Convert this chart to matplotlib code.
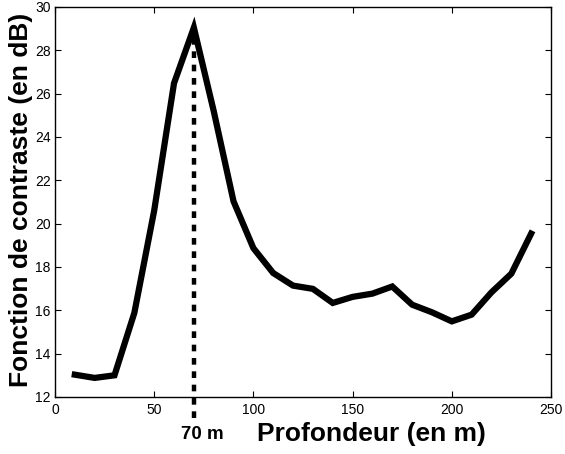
import numpy as np
import matplotlib
matplotlib.use("Agg")
import matplotlib.pyplot as plt

plt.rcParams['font.family'] = ['Liberation Sans', 'DejaVu Sans']

# profondeur (m) et fonction de contraste (dB)
depth = [10, 20, 30, 40, 50, 60, 70, 80, 90, 100, 110, 120,
         130, 140, 150, 160, 170, 180, 190, 200, 210, 220, 230, 240]
contrast = [13.03, 12.88, 13.0, 15.88, 20.6, 26.48, 29.05, 25.2, 21.03, 18.87, 17.72, 17.14,
            16.99, 16.34, 16.62, 16.77, 17.1, 16.26, 15.91, 15.49, 15.8, 16.83, 17.69, 19.54]
peak_depth = 70
xticks = [0, 50, 100, 150, 200, 250]
yticks = [12, 14, 16, 18, 20, 22, 24, 26, 28, 30]

fig = plt.figure(figsize=(5.65, 4.54), dpi=100)
ax = fig.add_axes([0.0973, 0.1256, 0.8779, 0.859])

ax.plot(depth, contrast, color='black', lw=4.5, solid_joinstyle='miter')
peak_val = contrast[depth.index(peak_depth)]
ax.plot([peak_depth, peak_depth], [11.05, peak_val], color='black', lw=3.2,
        linestyle=(0, (1.5, 1.5)), clip_on=False)

ax.set_xlim(0, 250)
ax.set_ylim(12, 30)
ax.set_xticks(xticks)
ax.set_yticks(yticks)
ax.tick_params(direction='in', length=4, width=0.8, top=True, right=True,
               labelsize=10, pad=3)
ax.tick_params(axis='x', pad=4)
for s in ax.spines.values():
    s.set_linewidth(1.0)

ax.text(peak_depth - 6.3, -0.096, '70 m', transform=ax.get_xaxis_transform(),
        fontsize=13.5, fontweight='bold', ha='left', va='center')
ax.text(0.638, -0.096, 'Profondeur (en m)', transform=ax.transAxes,
        fontsize=19, fontweight='bold', ha='center', va='center')
ax.text(-0.068, 0.505, 'Fonction de contraste (en dB)', transform=ax.transAxes,
        fontsize=19, fontweight='bold', ha='center', va='center', rotation=90)

fig.savefig('out.png', dpi=100)
